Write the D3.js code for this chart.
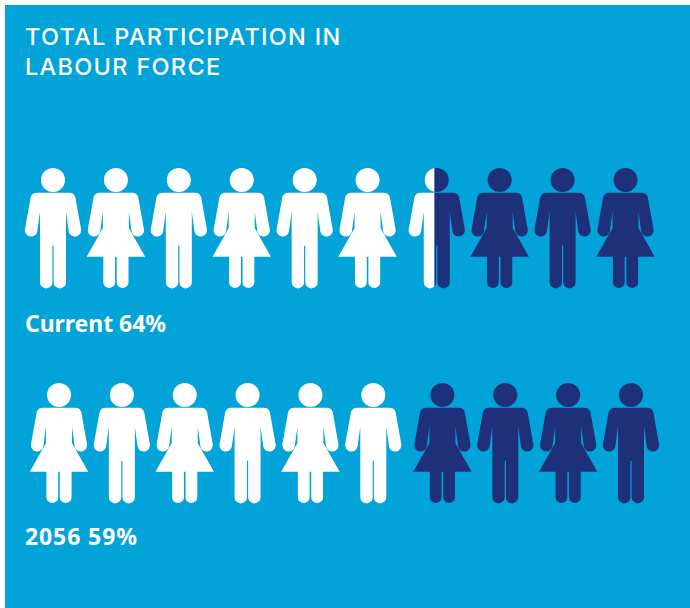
<!DOCTYPE html>
<html>
<head>
<meta charset="utf-8">
<script src="https://cdn.jsdelivr.net/npm/d3@7"></script>
<style>html,body{margin:0;padding:0;background:#fff}svg{display:block}</style>
</head>
<body>
<svg id="chart" width="690" height="608"></svg>
<script>
const titleLines = ["TOTAL PARTICIPATION IN", "LABOUR FORCE"];
const rowLabels = ["Current 64%", "2056 59%"];
const currentFigures = ["m","w","m","w","m","w","m","w","m","w"];
const futureFigures = ["w","m","w","m","w","m","w","m","w","m"];
// share of each figure shown in white
const currentShare = [1,1,1,1,1,1,0.46,0,0,0];
const futureShare = [1,1,1,1,1,1,0,0,0,0];

const BG = "#01a3d9", NAVY = "#1e307a", WHITE = "#ffffff";
const svg = d3.select("#chart");
svg.append("rect").attr("x",5).attr("y",5).attr("width",685).attr("height",603).attr("fill",BG);

const upper = "M-16,24.7H16Q21,24.7 22.3,29L28,61A6.2,6.2 0 0 1 15.7,63.5L13,43.7";
const upperEnd = "L-15.7,63.5A6.2,6.2 0 0 1 -28,61L-22.3,29Q-21,24.7 -16,24.7Z";
const manPath = upper + "V114.2A6.2,6.2 0 0 1 0.6,114.2V77.7H-0.6V114.2A6.2,6.2 0 0 1 -13,114.2V43.7" + upperEnd;
const womanPath = upper + "V62H-13V43.7" + upperEnd
  + "M-13,60H13L29.2,88.7H-29.2Z"
  + "M0.8,85H12.6V114.2A5.9,5.9 0 0 1 0.8,114.2Z"
  + "M-12.6,85H-0.8V114.2A5.9,5.9 0 0 1 -12.6,114.2Z";

// position along the row; the white and navy groups are set slightly apart
const groupGap = 0.1;
const slot = i => i + (i >= 6 ? groupGap : 0);
const rows = [
  {figures: currentFigures, share: currentShare, label: rowLabels[0], spacing: -0.05,
   x: d3.scaleLinear().domain([0, 9.1]).range([53, 625.5]), y: 168, labelY: 331.5},
  {figures: futureFigures, share: futureShare, label: rowLabels[1], spacing: 0.9,
   x: d3.scaleLinear().domain([0, 9.1]).range([59, 631]), y: 383, labelY: 545}
];
const shareX = d3.scaleLinear().domain([0,1]).range([-28,28]);
const defs = svg.append("defs");

rows.forEach((row, r) => {
  const g = svg.append("g");
  const icons = g.selectAll("g.icon")
    .data(row.figures.map((kind,i)=>({kind,i,share:row.share[i]})))
    .join("g").attr("class","icon")
    .attr("transform", d => `translate(${row.x(slot(d.i))},${row.y})`);
  icons.each(function(d){
    const sel = d3.select(this);
    const draw = (color, clip) => {
      const p = sel.append("g").attr("fill",color);
      if (clip) p.attr("clip-path",`url(#${clip})`);
      p.append("circle").attr("cx",0).attr("cy",12).attr("r",12);
      p.append("path").attr("d", d.kind==="m" ? manPath : womanPath);
    };
    if (d.share >= 1) draw(WHITE);
    else if (d.share <= 0) draw(NAVY);
    else {
      const a = `c${r}-${d.i}-a`, b = `c${r}-${d.i}-b`, sx = shareX(d.share);
      defs.append("clipPath").attr("id",a).append("rect").attr("x",-40).attr("y",-5).attr("width",40+sx).attr("height",135);
      defs.append("clipPath").attr("id",b).append("rect").attr("x",sx).attr("y",-5).attr("width",40-sx).attr("height",135);
      draw(WHITE,a); draw(NAVY,b);
    }
  });
  svg.append("text").attr("x",25).attr("y",row.labelY)
    .attr("font-family","'Noto Sans'").attr("font-weight",700)
    .attr("font-size",23).attr("letter-spacing",row.spacing).attr("fill",WHITE).text(row.label);
});

svg.selectAll("text.title").data(titleLines).join("text").attr("class","title")
  .attr("x",25).attr("y",(d,i)=>45+i*30)
  .attr("font-family","Inter").attr("font-weight",500)
  .attr("font-size",23.5).attr("letter-spacing",1.3).attr("fill",WHITE).text(d=>d);
</script>
</body>
</html>
